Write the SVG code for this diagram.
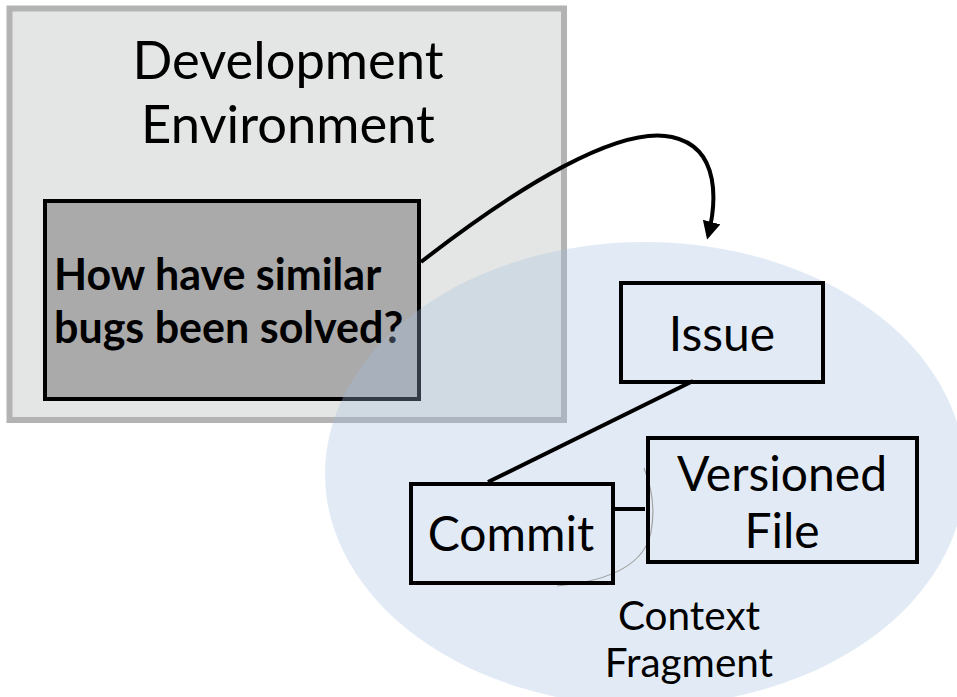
<svg xmlns="http://www.w3.org/2000/svg" width="957" height="697" viewBox="0 0 957 697">
  <style>
    .label { font-family: Lato, "Open Sans", "Liberation Sans", sans-serif; fill: #000; text-anchor: middle; }
    .title { font-size: 52.5px; }
    .question { font-size: 43px; font-weight: bold; text-anchor: start; }
    .entity { font-size: 48px; }
    .caption { font-size: 40.5px; }
    .box { fill: none; stroke: #000; stroke-width: 4; }
    .link { fill: none; stroke: #000; stroke-width: 4; }
  </style>
  <defs>
    <marker id="arrowhead" viewBox="0 0 10 10" refX="8" refY="5" markerWidth="4.5" markerHeight="4.5" orient="auto" markerUnits="strokeWidth">
      <path d="M0,0 L10,5 L0,10 z" fill="#000"/>
    </marker>
  </defs>

  <rect width="957" height="697" fill="#fff"/>

  <!-- development environment container -->
  <g id="dev-environment">
    <rect x="9.5" y="8.5" width="554.5" height="411.5" fill="#e4e6e5" stroke="#b3b3b3" stroke-width="6"/>
    <text class="label title" x="288" y="79">Development</text>
    <text class="label title" x="288" y="143">Environment</text>
  </g>

  <!-- question posed inside the environment -->
  <g id="question">
    <rect x="45" y="201" width="374" height="198" fill="#aaaaab" stroke="#000" stroke-width="4"/>
    <text class="label question" x="54" y="290">How have similar</text>
    <text class="label question" x="54" y="343">bugs been solved?</text>
  </g>

  <!-- translucent context fragment region -->
  <g id="context-fragment">
    <ellipse cx="645" cy="474" rx="320" ry="232" fill="rgb(160,190,222)" fill-opacity="0.31"/>
    <text class="label caption" x="689" y="630">Context</text>
    <text class="label caption" x="689" y="677">Fragment</text>
  </g>

  <g id="connectors">
    <path class="link" d="M421,262 C520,185 620,125 672,137 C722,148 716,205 708,236" marker-end="url(#arrowhead)"/>
    <line class="link" x1="693" y1="381" x2="488" y2="482"/>
    <line class="link" x1="612" y1="509" x2="645" y2="509"/>
    <path d="M644,468 Q657,500 651,532 Q642,578 557,586" fill="none" stroke="#a3a3a3" stroke-width="1.2"/>
  </g>

  <g id="issue">
    <rect class="box" x="621" y="283" width="202" height="99" fill="none"/>
    <text class="label entity" x="722" y="351">Issue</text>
  </g>

  <g id="commit">
    <rect class="box" x="411" y="484" width="202" height="99"/>
    <text class="label entity" x="511" y="551">Commit</text>
  </g>

  <g id="versioned-file">
    <rect class="box" x="648" y="438" width="269" height="124"/>
    <text class="label entity" x="782" y="491">Versioned</text>
    <text class="label entity" x="782" y="548">File</text>
  </g>
</svg>
